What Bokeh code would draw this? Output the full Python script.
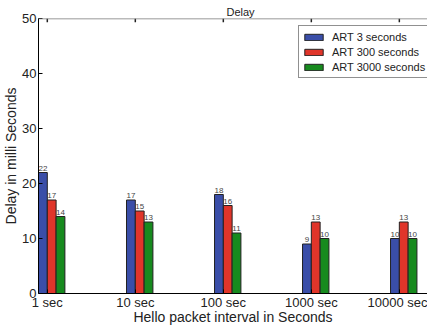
from bokeh.plotting import figure
from bokeh.models import Range1d, FixedTicker, Span, ColumnDataSource
from bokeh.core.properties import value
from bokeh.embed import file_html
from bokeh.resources import INLINE

categories = ["1 sec", "10 sec", "100 sec", "1000 sec", "10000 sec"]
art3 = [22, 17, 18, 9, 10]
art300 = [17, 15, 16, 13, 13]
art3000 = [14, 13, 11, 10, 10]
series_names = ["ART 3 seconds", "ART 300 seconds", "ART 3000 seconds"]
colors = ["#3a4ea8", "#e0352a", "#178a1e"]
y_ticks = [0, 10, 20, 30, 40, 50]

FONT = "Liberation Sans"
W = 0.1
offsets = [-0.05, 0.05, 0.15]

p = figure(width=427, height=327, output_backend="svg", toolbar_location=None,
           x_range=Range1d(-0.1, 4.32), y_range=Range1d(0, 50),
           min_border_left=35, min_border_right=0, min_border_top=18,
           min_border_bottom=33, title="Delay")
p.outline_line_color = None
p.xgrid.visible = False
p.ygrid.visible = False
p.background_fill_color = "white"
p.border_fill_color = "white"

p.title.align = "left"
p.title.offset = 188
p.title.standoff = 1
p.title.text_font = FONT
p.title.text_font_size = "11px"
p.title.text_font_style = "normal"
p.title.text_color = "#222222"

idx = list(range(len(categories)))
for vals, name, col, off in zip([art3, art300, art3000], series_names, colors, offsets):
    xs = [i + off for i in idx]
    src = ColumnDataSource(dict(x=xs, top=vals, lab=[str(v) for v in vals]))
    p.vbar(x="x", top="top", width=W, source=src, fill_color=col,
           line_color="#222222", line_width=1, legend_label=name)
    p.text(x="x", y="top", text="lab", source=src, text_align="center",
           text_baseline="bottom", y_offset=-2, text_font_size="8px",
           text_color="#444444", text_font=value(FONT))

# top spine with inward ticks
p.add_layout(Span(location=50, dimension="width", line_color="#777777", line_width=1.5))
p.segment(x0=idx, y0=[50] * len(idx), x1=idx, y1=[49.3] * len(idx),
          line_color="#222222", line_width=1.5)

# axes
p.xaxis.ticker = FixedTicker(ticks=idx)
p.xaxis.major_label_overrides = {i: c for i, c in zip(idx, categories)}
p.xaxis.axis_label = "Hello packet interval in Seconds"
p.yaxis.ticker = FixedTicker(ticks=y_ticks)
p.yaxis.axis_label = "Delay in milli Seconds"
for ax in (p.xaxis, p.yaxis):
    ax.major_tick_in = 4
    ax.major_tick_out = 0
    ax.minor_tick_line_color = None
    ax.axis_line_color = "black"
    ax.axis_line_width = 1
    ax.major_tick_line_color = "black"
    ax.major_label_text_font = FONT
    ax.major_label_text_font_size = "13px"
    ax.major_label_text_color = "#222222"
    ax.axis_label_text_font = FONT
    ax.axis_label_text_font_size = "14px"
    ax.axis_label_text_font_style = "normal"
    ax.axis_label_text_color = "#222222"
p.xaxis.major_label_standoff = 1
p.xaxis.axis_label_standoff = -4
p.yaxis.major_label_standoff = 2
p.yaxis.axis_label_standoff = 0

# legend
lg = p.legend[0]
lg.location = (260, 215)
lg.label_text_font = FONT
lg.label_text_font_size = "11px"
lg.label_text_color = "#222222"
lg.glyph_width = 23
lg.glyph_height = 8
lg.label_height = 15
lg.label_standoff = 7
lg.spacing = 0
lg.padding = 3
lg.margin = 0
lg.border_line_color = "#222222"
lg.border_line_width = 1
lg.background_fill_alpha = 1

open("out.html", "w").write(file_html(p, INLINE))
